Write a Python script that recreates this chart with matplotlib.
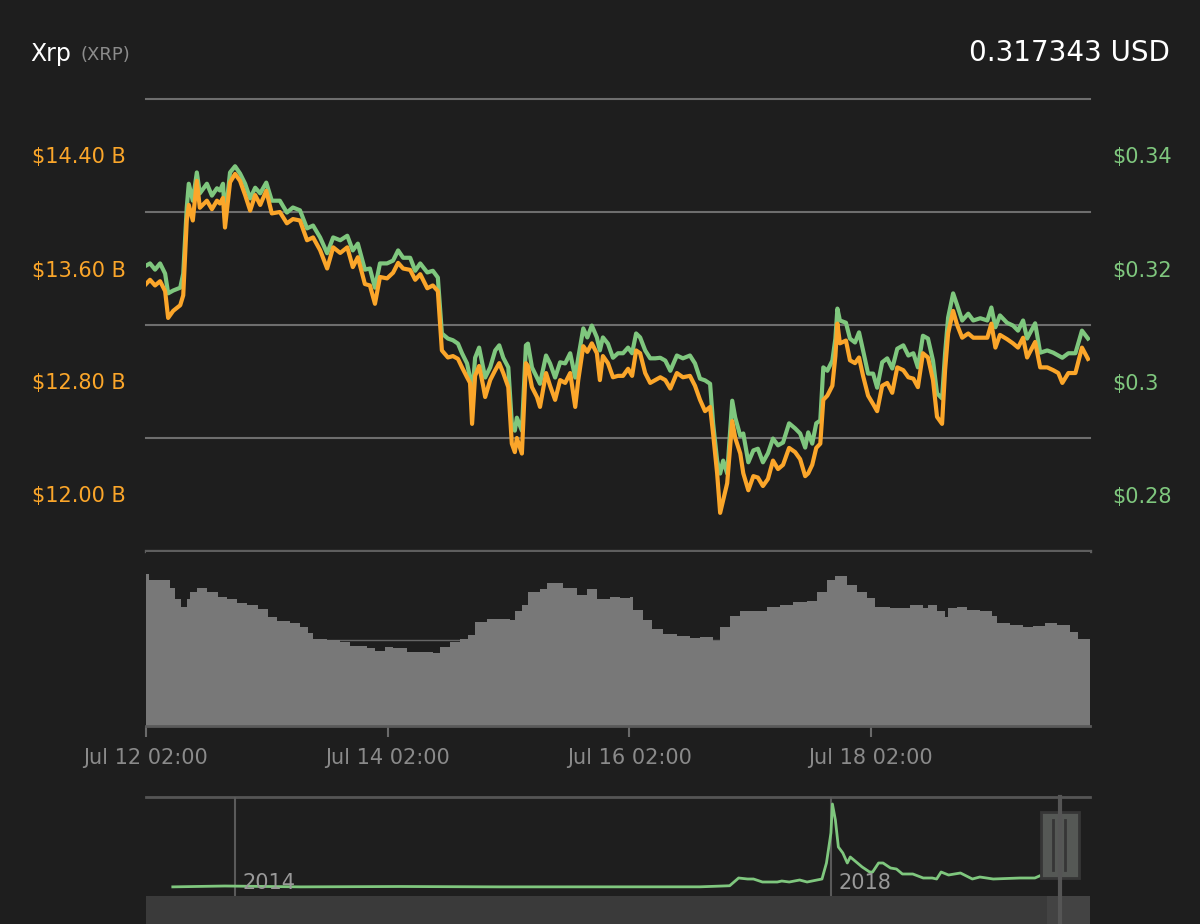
import pandas as pd
import numpy as np
import matplotlib
matplotlib.use("Agg")
import matplotlib.pyplot as plt
import matplotlib.dates as mdates
from matplotlib.patches import Rectangle
from matplotlib.lines import Line2D

# hours after Jul 12 2019 02:00
hours = [0.0, 0.8, 1.8, 2.8, 3.8, 4.4, 5.4, 6.8, 7.4, 8.1, 8.5, 9.3, 10.1, 10.7, 12.1, 13.1, 14.1, 14.7, 15.3, 15.7,
         16.7, 17.7, 18.7, 19.7, 20.7, 21.7, 22.7, 23.9, 25.0, 26.6, 28.0, 29.2, 30.6, 32.0, 33.2, 34.6, 36.0, 37.2, 38.6, 40.0,
         41.1, 42.1, 43.5, 44.5, 45.5, 46.5, 47.9, 49.1, 50.1, 51.1, 52.5, 53.5, 54.5, 55.9, 57.0, 58.0, 58.8, 60.0, 61.0, 62.0,
         62.8, 63.8, 64.4, 64.8, 65.4, 66.2, 67.0, 67.4, 68.4, 69.4, 70.2, 71.0, 72.0, 72.7, 73.3, 73.7, 74.7, 75.5, 75.9, 76.7,
         77.7, 78.3, 79.5, 80.3, 81.3, 82.3, 83.3, 84.3, 85.3, 85.9, 86.9, 87.7, 88.6, 89.6, 90.2, 90.8, 91.8, 92.8, 93.8, 94.8,
         95.8, 96.6, 97.4, 98.2, 99.2, 100.2, 101.2, 102.2, 103.2, 104.2, 105.5, 106.7, 108.1, 109.1, 110.1, 111.1, 112.1, 112.7, 113.5, 114.1,
         114.7, 115.5, 116.5, 117.1, 118.1, 118.7, 119.7, 120.7, 121.6, 122.6, 123.6, 124.6, 125.6, 126.6, 127.8, 129.0, 130.0, 131.0, 131.6, 132.4,
         133.2, 134.0, 134.6, 135.4, 136.4, 137.0, 137.4, 137.9, 139.1, 139.9, 140.9, 141.7, 142.5, 143.5, 144.5, 145.3, 146.3, 147.3, 148.3, 149.3,
         150.5, 151.5, 152.5, 153.4, 154.4, 155.4, 156.4, 157.2, 158.2, 158.8, 159.4, 160.4, 161.2, 162.2, 163.4, 164.4, 165.8, 167.2, 168.0, 168.8,
         169.7, 171.1, 172.3, 173.3, 174.3, 175.1, 176.7, 177.7, 179.1, 180.3, 181.3, 182.1, 183.3, 184.7, 186.0, 187.2]

price = [0.3205, 0.3209, 0.3198, 0.3209, 0.3191, 0.3156, 0.3161, 0.3166, 0.3191, 0.3308, 0.3350, 0.3320, 0.3370, 0.3333, 0.3350, 0.3329, 0.3342, 0.3338, 0.3350, 0.3289,
         0.3370, 0.3381, 0.3368, 0.3350, 0.3324, 0.3343, 0.3333, 0.3352, 0.3320, 0.3320, 0.3299, 0.3308, 0.3303, 0.3271, 0.3276, 0.3255, 0.3227, 0.3255, 0.3250, 0.3258,
         0.3232, 0.3244, 0.3198, 0.3200, 0.3166, 0.3209, 0.3209, 0.3214, 0.3232, 0.3219, 0.3219, 0.3196, 0.3209, 0.3193, 0.3196, 0.3184, 0.3085, 0.3076, 0.3073, 0.3067,
         0.3050, 0.3032, 0.3007, 0.2972, 0.3042, 0.3060, 0.3025, 0.3007, 0.3025, 0.3055, 0.3064, 0.3042, 0.3025, 0.2926, 0.2913, 0.2936, 0.2913, 0.3064, 0.3067, 0.3025,
         0.3007, 0.2996, 0.3046, 0.3032, 0.3007, 0.3034, 0.3032, 0.3050, 0.3007, 0.3042, 0.3094, 0.3078, 0.3099, 0.3078, 0.3055, 0.3078, 0.3067, 0.3042, 0.3050, 0.3050,
         0.3060, 0.3050, 0.3085, 0.3078, 0.3055, 0.3041, 0.3041, 0.3042, 0.3037, 0.3019, 0.3046, 0.3041, 0.3046, 0.3032, 0.3005, 0.3002, 0.2996, 0.2926, 0.2860, 0.2837,
         0.2860, 0.2837, 0.2966, 0.2936, 0.2904, 0.2908, 0.2857, 0.2878, 0.2881, 0.2857, 0.2873, 0.2899, 0.2887, 0.2892, 0.2926, 0.2917, 0.2908, 0.2883, 0.2910, 0.2890,
         0.2926, 0.2931, 0.3025, 0.3019, 0.3037, 0.3076, 0.3129, 0.3108, 0.3104, 0.3076, 0.3069, 0.3087, 0.3055, 0.3014, 0.3014, 0.2989, 0.3034, 0.3041, 0.3023, 0.3058,
         0.3064, 0.3046, 0.3050, 0.3025, 0.3081, 0.3076, 0.3037, 0.2979, 0.2970, 0.3050, 0.3113, 0.3156, 0.3135, 0.3108, 0.3120, 0.3108, 0.3112, 0.3108, 0.3131, 0.3096,
         0.3117, 0.3104, 0.3099, 0.3090, 0.3108, 0.3076, 0.3103, 0.3051, 0.3055, 0.3051, 0.3046, 0.3042, 0.3050, 0.3050, 0.3090, 0.3076]

mcap = [13.49, 13.52, 13.48, 13.51, 13.44, 13.25, 13.30, 13.34, 13.41, 13.94, 14.05, 13.94, 14.22, 14.03, 14.08, 14.02, 14.08, 14.06, 14.10, 13.89,
        14.21, 14.27, 14.22, 14.12, 14.01, 14.12, 14.05, 14.15, 13.99, 14.00, 13.92, 13.95, 13.94, 13.80, 13.82, 13.73, 13.60, 13.75, 13.71, 13.75,
        13.61, 13.68, 13.49, 13.48, 13.35, 13.54, 13.53, 13.57, 13.64, 13.60, 13.59, 13.52, 13.56, 13.46, 13.48, 13.44, 13.02, 12.97, 12.98, 12.96,
        12.90, 12.83, 12.79, 12.50, 12.84, 12.91, 12.77, 12.69, 12.81, 12.88, 12.93, 12.86, 12.76, 12.36, 12.30, 12.40, 12.29, 12.93, 12.91, 12.76,
        12.69, 12.62, 12.86, 12.77, 12.67, 12.81, 12.79, 12.86, 12.62, 12.81, 13.05, 13.01, 13.07, 13.00, 12.81, 12.98, 12.93, 12.83, 12.84, 12.84,
        12.89, 12.84, 13.02, 13.00, 12.86, 12.79, 12.81, 12.83, 12.81, 12.75, 12.86, 12.83, 12.84, 12.77, 12.67, 12.59, 12.62, 12.43, 12.15, 11.87,
        11.96, 12.08, 12.52, 12.40, 12.29, 12.15, 12.03, 12.13, 12.12, 12.06, 12.11, 12.24, 12.18, 12.21, 12.33, 12.30, 12.25, 12.13, 12.15, 12.21,
        12.33, 12.36, 12.67, 12.70, 12.77, 12.98, 13.21, 13.07, 13.09, 12.95, 12.93, 12.97, 12.84, 12.70, 12.64, 12.59, 12.77, 12.79, 12.72, 12.90,
        12.88, 12.83, 12.82, 12.76, 13.00, 12.97, 12.81, 12.55, 12.50, 12.88, 13.14, 13.30, 13.20, 13.11, 13.14, 13.11, 13.11, 13.11, 13.21, 13.04,
        13.13, 13.10, 13.07, 13.04, 13.11, 12.97, 13.08, 12.90, 12.90, 12.88, 12.86, 12.79, 12.86, 12.86, 13.04, 12.96]

vol_hours = [0.0, 0.6, 1.8, 3.4, 4.8, 5.8, 7.0, 8.1, 8.7, 10.1, 12.1, 14.3, 16.1, 18.1, 20.1, 22.3, 24.2, 26.0, 28.6, 30.6,
             32.2, 33.2, 36.0, 38.6, 40.5, 43.9, 45.5, 47.5, 49.1, 51.9, 55.1, 57.0, 58.4, 60.4, 62.4, 64.0, 65.4, 67.8, 70.4, 72.4,
             73.3, 74.7, 75.9, 78.3, 79.7, 81.7, 82.9, 85.7, 87.7, 89.6, 92.2, 94.2, 96.2, 96.8, 98.8, 100.6, 102.8, 105.5, 108.1, 110.1,
             112.7, 114.1, 116.1, 118.1, 120.7, 123.4, 126.0, 128.6, 131.4, 133.4, 135.4, 137.0, 139.3, 141.3, 143.3, 144.9, 147.9, 151.9, 154.4, 155.4,
             157.2, 158.8, 159.4, 161.2, 163.2, 165.8, 168.2, 169.2, 171.7, 174.3, 176.3, 178.7, 181.1, 182.7, 183.7, 185.3, 187.6]
volume = [1.77, 1.70, 1.69, 1.69, 1.60, 1.47, 1.38, 1.47, 1.55, 1.60, 1.56, 1.50, 1.48, 1.43, 1.41, 1.36, 1.26, 1.22, 1.20, 1.15,
          1.08, 1.01, 1.00, 0.98, 0.93, 0.91, 0.87, 0.92, 0.90, 0.86, 0.86, 0.85, 0.92, 0.97, 1.01, 1.06, 1.21, 1.24, 1.24, 1.23,
          1.33, 1.41, 1.55, 1.59, 1.66, 1.66, 1.60, 1.52, 1.59, 1.48, 1.50, 1.49, 1.50, 1.35, 1.23, 1.13, 1.07, 1.05, 1.02, 1.03,
          0.99, 1.15, 1.28, 1.34, 1.34, 1.38, 1.41, 1.44, 1.45, 1.55, 1.69, 1.74, 1.64, 1.56, 1.49, 1.38, 1.37, 1.40, 1.37, 1.41,
          1.34, 1.27, 1.37, 1.38, 1.35, 1.33, 1.28, 1.19, 1.17, 1.15, 1.16, 1.20, 1.17, 1.17, 1.09, 1.01, 1.00]

# navigator: full history of the price
nav_year = [2013.58, 2013.93, 2014.44, 2015.11, 2015.78, 2016.45, 2017.12, 2017.32, 2017.38, 2017.44, 2017.48, 2017.54, 2017.64, 2017.67,
            2017.72, 2017.79, 2017.84, 2017.94, 2017.97, 2018.00, 2018.01, 2018.03, 2018.05, 2018.08, 2018.11, 2018.13, 2018.17, 2018.21,
            2018.26, 2018.28, 2018.32, 2018.35, 2018.40, 2018.44, 2018.48, 2018.55, 2018.62, 2018.68, 2018.71, 2018.74, 2018.79, 2018.87,
            2018.95, 2019.00, 2019.09, 2019.27, 2019.37, 2019.40]
nav_price = [0.005, 0.04, 0.005, 0.02, 0.005, 0.006, 0.007, 0.05, 0.36, 0.32, 0.32, 0.20, 0.20, 0.24,
             0.20, 0.28, 0.20, 0.32, 0.96, 2.16, 3.32, 2.68, 1.60, 1.36, 0.96, 1.20, 1.00, 0.80,
             0.60, 0.60, 0.96, 0.96, 0.76, 0.72, 0.52, 0.52, 0.36, 0.36, 0.32, 0.60, 0.48, 0.56,
             0.32, 0.40, 0.32, 0.36, 0.36, 0.44]

price_ticks = [0.28, 0.30, 0.32, 0.34]
price_labels = ["$0.28", "$0.3", "$0.32", "$0.34"]
mcap_ticks = [12.00, 12.80, 13.60, 14.40]
mcap_labels = ["$12.00 B", "$12.80 B", "$13.60 B", "$14.40 B"]
date_ticks = ["2019-07-12 02:00", "2019-07-14 02:00", "2019-07-16 02:00", "2019-07-18 02:00"]

BG = "#1e1e1e"
GREEN = "#7fc77e"
ORANGE = "#fba62a"
GRID = "#6e6e6e"
W, H = 1200, 924

t0 = pd.Timestamp("2019-07-12 02:00")
t = t0 + pd.to_timedelta(hours, unit="h")
vt = t0 + pd.to_timedelta(vol_hours, unit="h")
t_end = t0 + pd.to_timedelta(187.6, unit="h")


def box(x0, y0, x1, y1):
    # pixel box (top-left origin) -> figure fraction rect
    return [x0 / W, 1 - y1 / H, (x1 - x0) / W, (y1 - y0) / H]


fig = plt.figure(figsize=(12, 9.24), dpi=100, facecolor=BG)

# price / market cap panel
ax_p = fig.add_axes(box(146, 99, 1090, 551))
ax_p.set_facecolor(BG)
ax_m = ax_p.twinx()
ax_m.set_facecolor("none")
ax_p.yaxis.tick_right()
ax_m.yaxis.tick_left()

for v in [0.35, 0.33, 0.31, 0.29]:
    ax_p.axhline(v, color=GRID, lw=1.5, clip_on=False, zorder=0)
ax_p.axhline(0.27, color="#5e5e5e", lw=2.4, clip_on=False, zorder=0)

ax_p.plot(t, price, color=GREEN, lw=3, solid_joinstyle="round")
ax_m.plot(t, mcap, color=ORANGE, lw=3, solid_joinstyle="round")

ax_p.set_ylim(0.27, 0.35)
ax_m.set_ylim(11.60, 14.80)
ax_p.set_xlim(t0, t_end)

ax_p.set_yticks(price_ticks)
ax_p.set_yticklabels(price_labels)
ax_p.tick_params(axis="y", length=0, pad=16, labelsize=15, labelcolor=GREEN)
ax_m.set_yticks(mcap_ticks)
ax_m.set_yticklabels(mcap_labels)
ax_m.tick_params(axis="y", length=0, pad=14.5, labelsize=15, labelcolor=ORANGE)
for a in (ax_p, ax_m):
    a.tick_params(axis="x", bottom=False, labelbottom=False)
    for s in a.spines.values():
        s.set_visible(False)

# volume panel
ax_v = fig.add_axes(box(146, 552, 1090, 726))
ax_v.set_facecolor(BG)
ax_v.axhline(1.0, color="#666666", lw=1, zorder=1)
ax_v.fill_between(vt, volume, step="post", color="#787878", lw=0, zorder=2)
ax_v.set_xlim(t0, t_end)
ax_v.set_ylim(0, 2.02)
ax_v.set_yticks([])
for k in ("top", "left", "right"):
    ax_v.spines[k].set_visible(False)
ax_v.spines["bottom"].set_color("#5a5a5a")
ax_v.spines["bottom"].set_linewidth(2)
ax_v.set_xticks(pd.to_datetime(date_ticks))
ax_v.xaxis.set_major_formatter(mdates.DateFormatter("%b %d %H:%M"))
ax_v.tick_params(axis="x", direction="out", length=8, width=1.5, color="#6a6a6a",
                 labelcolor="#8a8a8a", labelsize=15, pad=8)

# navigator
ax_n = fig.add_axes(box(146, 797, 1090, 896))
ax_n.set_facecolor(BG)
ax_n.set_xlim(2013.40, 2019.74)
ax_n.set_ylim(-0.36, 3.6)
ax_n.axhline(3.6, color="#555555", lw=2, clip_on=False)
for yr in (2014, 2018):
    ax_n.axvline(yr, color="#5a5a5a", lw=1.5)
    ax_n.text(yr + 0.05, 0.07, str(yr), transform=ax_n.get_xaxis_transform(),
              color="#999999", fontsize=15, va="baseline", ha="left")
ax_n.plot(nav_year, nav_price, color=GREEN, lw=2)
ax_n.set_xticks([])
ax_n.set_yticks([])
for s in ax_n.spines.values():
    s.set_visible(False)

# scrollbar and handle
fig.add_artist(Rectangle((146 / W, 0), (1047 - 146) / W, 28 / H, transform=fig.transFigure,
                         facecolor="#3a3a3a", edgecolor="none"))
fig.add_artist(Rectangle((1047 / W, 0), (1090 - 1047) / W, 28 / H, transform=fig.transFigure,
                         facecolor="#434343", edgecolor="none"))
fig.add_artist(Line2D([1060 / W, 1060 / W], [0, 1 - 797 / H], transform=fig.transFigure,
                      color="#555555", lw=3))
hb = box(1041, 812, 1079, 878)
fig.add_artist(Rectangle((hb[0], hb[1]), hb[2], hb[3], transform=fig.transFigure,
                         facecolor="#555855", edgecolor="#363636", lw=2))
for xx in (1053, 1065):
    fig.add_artist(Line2D([xx / W, xx / W], [1 - 870 / H, 1 - 820 / H], transform=fig.transFigure,
                          color="#363636", lw=2))

# header
fig.text(30 / W, 1 - 61 / H, "Xrp", color="white", fontsize=17, va="baseline", ha="left")
fig.text(80 / W, 1 - 60 / H, "(XRP)", color="#8c8c8c", fontsize=13, va="baseline", ha="left")
fig.text(1170 / W, 1 - 61 / H, "0.317343 USD", color="white", fontsize=20, va="baseline", ha="right")

fig.savefig("out.png", dpi=100, facecolor=BG)
